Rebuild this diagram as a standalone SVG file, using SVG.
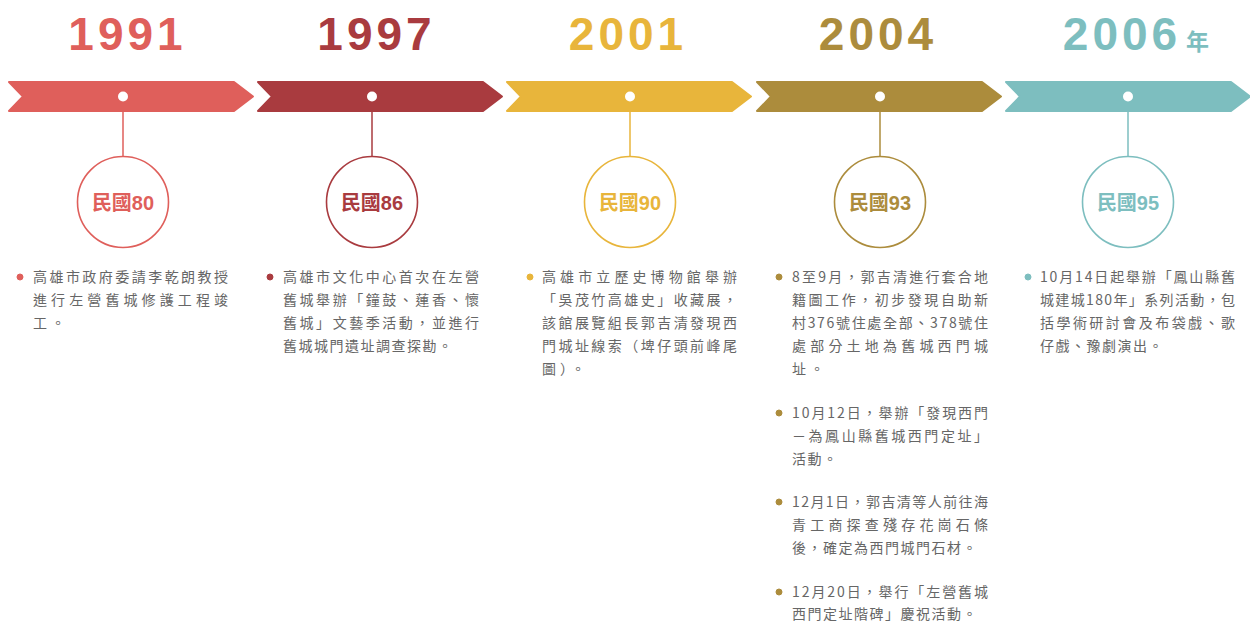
<svg xmlns="http://www.w3.org/2000/svg" width="1250" height="622" viewBox="0 0 1250 622">
<style>
.yr{font-family:"Liberation Sans",Arial,sans-serif;font-weight:bold;font-size:46px;letter-spacing:4px;text-anchor:middle}
.nian{font-family:"Noto Sans CJK TC",sans-serif;font-weight:bold;font-size:23px}
.lbl{font-family:"Liberation Sans","Noto Sans CJK TC",sans-serif;font-weight:bold;font-size:20px;text-anchor:middle}
.body{font-family:"Noto Sans CJK TC",sans-serif;font-size:14px;fill:#666}
.ls{letter-spacing:1.5px}
.lw{letter-spacing:4px}
.ring{fill:#fff;stroke-width:1.6}
.stem{stroke-width:1.5}
.dot{fill:#fff}
.c1{fill:#DF5F5B;stroke:#DF5F5B}
.c2{fill:#A93B3F;stroke:#A93B3F}
.c3{fill:#E8B53B;stroke:#E8B53B}
.c4{fill:#AC8C3C;stroke:#AC8C3C}
.c5{fill:#7DBEBF;stroke:#7DBEBF}
.seg{stroke-width:2;stroke-linejoin:round}
text.c1,text.c2,text.c3,text.c4,text.c5{stroke:none}
</style>
<rect width="1250" height="622" fill="#fff"/>

<g id="connectors">
  <line class="stem c1" x1="123" y1="102" x2="123" y2="156.5"/>
  <line class="stem c2" x1="372" y1="102" x2="372" y2="156.5"/>
  <line class="stem c3" x1="630" y1="102" x2="630" y2="156.5"/>
  <line class="stem c4" x1="880" y1="102" x2="880" y2="156.5"/>
  <line class="stem c5" x1="1128" y1="102" x2="1128" y2="156.5"/>
</g>

<g id="n1991">
  <text class="yr c1" x="127.5" y="50">1991</text>
  <polygon class="seg c1" points="9,82 234,82 253,96.5 234,111 9,111 23,96.5"/>
  <circle class="dot" cx="123" cy="96.5" r="5"/>
  <circle class="ring" cx="123" cy="202" r="45.5" stroke="#DF5F5B"/>
  <text class="lbl c1" x="123" y="210">民國80</text>
  <circle class="c1" cx="20" cy="277" r="3"/>
  <text class="body" x="33" y="282" textLength="195" lengthAdjust="spacing">高雄市政府委請李乾朗教授</text>
  <text class="body" x="33" y="305" textLength="195" lengthAdjust="spacing">進行左營舊城修護工程竣</text>
  <text class="body lw" x="33" y="328">工。</text>
</g>

<g id="n1997">
  <text class="yr c2" x="376.5" y="50">1997</text>
  <polygon class="seg c2" points="258,82 483,82 502,96.5 483,111 258,111 272,96.5"/>
  <circle class="dot" cx="372" cy="96.5" r="5"/>
  <circle class="ring" cx="372" cy="202" r="45.5" stroke="#A93B3F"/>
  <text class="lbl c2" x="372" y="210">民國86</text>
  <circle class="c2" cx="270" cy="277" r="3"/>
  <text class="body" x="283" y="282" textLength="196" lengthAdjust="spacing">高雄市文化中心首次在左營</text>
  <text class="body" x="283" y="305" textLength="196" lengthAdjust="spacing">舊城舉辦「鐘鼓、蓮香、懷</text>
  <text class="body" x="283" y="328" textLength="196" lengthAdjust="spacing">舊城」文藝季活動，並進行</text>
  <text class="body ls" x="283" y="351">舊城城門遺址調查探勘。</text>
</g>

<g id="n2001">
  <text class="yr c3" x="628" y="50">2001</text>
  <polygon class="seg c3" points="507,82 732,82 751,96.5 732,111 507,111 521,96.5"/>
  <circle class="dot" cx="630" cy="96.5" r="5"/>
  <circle class="ring" cx="630" cy="202" r="45.5" stroke="#E8B53B"/>
  <text class="lbl c3" x="630" y="210">民國90</text>
  <circle class="c3" cx="530" cy="277" r="3"/>
  <text class="body" x="542" y="282" textLength="195" lengthAdjust="spacing">高雄市立歷史博物館舉辦</text>
  <text class="body" x="542" y="305" textLength="195" lengthAdjust="spacing">「吳茂竹高雄史」收藏展，</text>
  <text class="body" x="542" y="328" textLength="195" lengthAdjust="spacing">該館展覽組長郭吉清發現西</text>
  <text class="body" x="542" y="351" textLength="195" lengthAdjust="spacing">門城址線索（埤仔頭前峰尾</text>
  <text class="body lw" x="542" y="374">圖）。</text>
</g>

<g id="n2004">
  <text class="yr c4" x="878" y="50">2004</text>
  <polygon class="seg c4" points="757,82 982,82 1001,96.5 982,111 757,111 771,96.5"/>
  <circle class="dot" cx="880" cy="96.5" r="5"/>
  <circle class="ring" cx="880" cy="202" r="45.5" stroke="#AC8C3C"/>
  <text class="lbl c4" x="880" y="210">民國93</text>
  <circle class="c4" cx="779" cy="277" r="3"/>
  <text class="body" x="792" y="282" textLength="196" lengthAdjust="spacing">8至9月，郭吉清進行套合地</text>
  <text class="body" x="792" y="305" textLength="196" lengthAdjust="spacing">籍圖工作，初步發現自助新</text>
  <text class="body" x="792" y="328" textLength="196" lengthAdjust="spacing">村376號住處全部、378號住</text>
  <text class="body" x="792" y="351" textLength="196" lengthAdjust="spacing">處部分土地為舊城西門城</text>
  <text class="body lw" x="792" y="374">址。</text>
  <circle class="c4" cx="779" cy="413" r="3"/>
  <text class="body" x="792" y="418" textLength="196" lengthAdjust="spacing">10月12日，舉辦「發現西門</text>
  <text class="body" x="792" y="441" textLength="196" lengthAdjust="spacing">－為鳳山縣舊城西門定址」</text>
  <text class="body ls" x="792" y="464">活動。</text>
  <circle class="c4" cx="779" cy="502" r="3"/>
  <text class="body" x="792" y="507" textLength="196" lengthAdjust="spacing">12月1日，郭吉清等人前往海</text>
  <text class="body" x="792" y="530" textLength="196" lengthAdjust="spacing">青工商探查殘存花崗石條</text>
  <text class="body ls" x="792" y="553">後，確定為西門城門石材。</text>
  <circle class="c4" cx="779" cy="592" r="3"/>
  <text class="body" x="792" y="597" textLength="196" lengthAdjust="spacing">12月20日，舉行「左營舊城</text>
  <text class="body ls" x="792" y="619">西門定址階碑」慶祝活動。</text>
</g>

<g id="n2006">
  <text class="yr c5" x="1122" y="50">2006</text>
  <text class="nian c5" x="1186" y="50">年</text>
  <polygon class="seg c5" points="1006,82 1231,82 1250,96.5 1231,111 1006,111 1020,96.5"/>
  <circle class="dot" cx="1128" cy="96.5" r="5"/>
  <circle class="ring" cx="1128" cy="202" r="45.5" stroke="#7DBEBF"/>
  <text class="lbl c5" x="1128" y="210">民國95</text>
  <circle class="c5" cx="1028" cy="277" r="3"/>
  <text class="body" x="1040" y="282" textLength="195" lengthAdjust="spacing">10月14日起舉辦「鳳山縣舊</text>
  <text class="body" x="1040" y="305" textLength="195" lengthAdjust="spacing">城建城180年」系列活動，包</text>
  <text class="body" x="1040" y="328" textLength="195" lengthAdjust="spacing">括學術研討會及布袋戲、歌</text>
  <text class="body ls" x="1040" y="351">仔戲、豫劇演出。</text>
</g>
</svg>
